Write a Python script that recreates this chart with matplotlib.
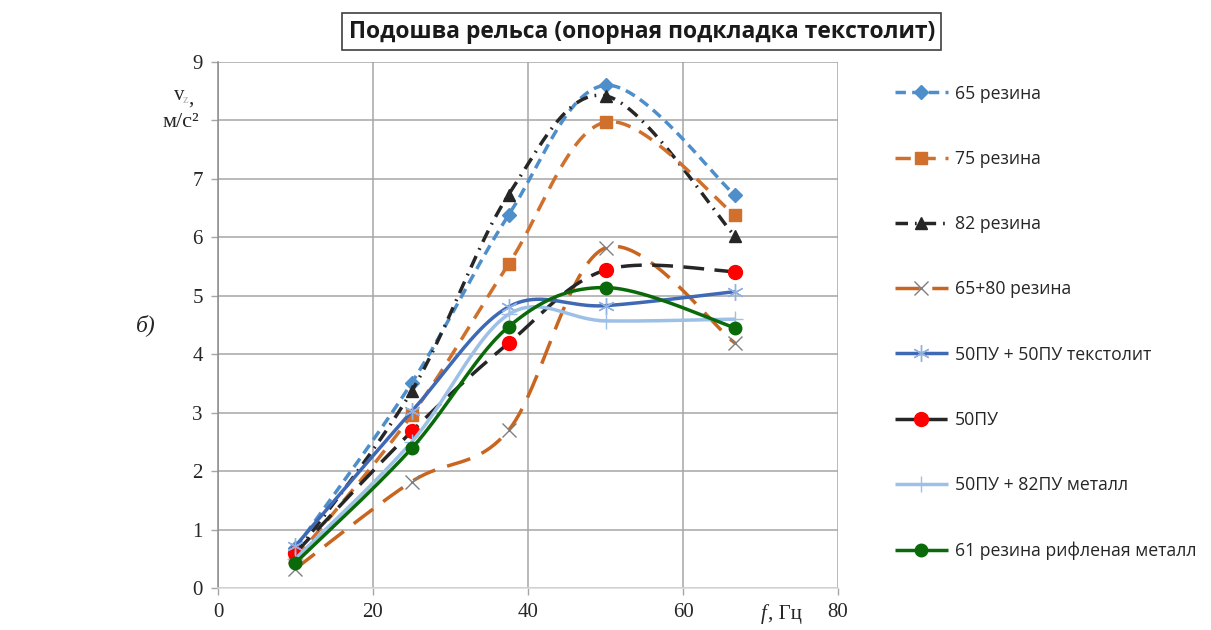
import numpy as np
import matplotlib

matplotlib.use("Agg")
import matplotlib.pyplot as plt

# frequency points, Hz
freq = [10, 25, 37.5, 50, 66.7]

# vertical acceleration, m/s^2
rez65 = [0.68, 3.51, 6.38, 8.6, 6.72]
rez75 = [0.5, 2.96, 5.54, 7.97, 6.38]
rez82 = [0.58, 3.37, 6.73, 8.42, 6.02]
rez65_80 = [0.33, 1.82, 2.7, 5.82, 4.19]
pu_textolite = [0.72, 3.02, 4.81, 4.83, 5.07]
pu50 = [0.6, 2.68, 4.19, 5.44, 5.41]
pu_metal = [0.5, 2.5, 4.68, 4.57, 4.6]
rez61_ribbed = [0.43, 2.39, 4.47, 5.14, 4.45]

labels = [
    "65 резина",
    "75 резина",
    "82 резина",
    "65+80 резина",
    "50ПУ + 50ПУ текстолит",
    "50ПУ",
    "50ПУ + 82ПУ металл",
    "61 резина рифленая металл",
]

x_ticks = [0, 20, 40, 60, 80]
y_ticks = list(range(0, 10))
# the "8" is covered by the unit caption in the source
y_tick_labels = ["0", "1", "2", "3", "4", "5", "6", "7", "", "9"]

N_SEG = 40


def smooth(xs, ys, n=N_SEG):
    """Excel-style smoothed line: Catmull-Rom as cubic Bezier segments."""
    pts = np.column_stack([xs, ys]).astype(float)
    p = np.vstack([pts[0], pts, pts[-1]])
    out = []
    t = np.linspace(0, 1, n, endpoint=False)[:, None]
    for i in range(len(pts) - 1):
        p0, p1, p2, p3 = p[i], p[i + 1], p[i + 2], p[i + 3]
        c1 = p1 + (p2 - p0) / 6
        c2 = p2 - (p3 - p1) / 6
        seg = (1 - t) ** 3 * p1 + 3 * (1 - t) ** 2 * t * c1 + 3 * (1 - t) * t ** 2 * c2 + t ** 3 * p2
        out.append(seg)
    out.append(pts[-1:])
    curve = np.vstack(out)
    return curve[:, 0], curve[:, 1], list(range(0, len(curve), n))


styles = [
    dict(color="#4E8FCB", dashes=(3.0, 1.8), marker="D", ms=7, mfc="#4E8FCB", mec="#4E8FCB"),
    dict(color="#D0702C", dashes=(4.4, 2.8), marker="s", ms=9, mfc="#D0702C", mec="#D0702C"),
    dict(color="#262626", dashes=(3.6, 2.0, 0.5, 2.0), marker="^", ms=9, mfc="#262626", mec="#262626"),
    dict(color="#C8651E", dashes=(7.0, 3.6), marker="x", ms=10, mfc="none", mec="#7F7F7F", mew=1.0),
    dict(color="#3F68B5", dashes=None, marker=(6, 2, 0), ms=12, mfc="none", mec="#8FB0E0", mew=1.0),
    dict(color="#262626", dashes=(6.0, 3.0), marker="o", ms=10, mfc="#FF0000", mec="#FF0000"),
    dict(color="#9DC0E6", dashes=None, marker="+", ms=12, mfc="none", mec="#9DC0E6", mew=1.0),
    dict(color="#0A6A0A", dashes=None, marker="o", ms=9, mfc="#0A6A0A", mec="#0A6A0A"),
]

series = [rez65, rez75, rez82, rez65_80, pu_textolite, pu50, pu_metal, rez61_ribbed]

fig = plt.figure(figsize=(12.11, 6.3), dpi=100)
ax = fig.add_axes([0.18, 0.0667, 0.512, 0.835])

# draw back to front roughly as in the source
order = [3, 0, 2, 1, 5, 4, 6, 7]
handles = [None] * len(series)
for i in order:
    st = styles[i]
    sx, sy, idx = smooth(freq, series[i])
    (ln,) = ax.plot(
        sx, sy, color=st["color"], lw=2.5, marker=st["marker"], markevery=idx,
        markersize=st["ms"], markerfacecolor=st["mfc"], markeredgecolor=st["mec"],
        markeredgewidth=st.get("mew", 1.0), label=labels[i], solid_capstyle="butt",
        dash_capstyle="butt", zorder=3 + order.index(i) * 0.1,
    )
    if st["dashes"] is not None:
        ln.set_dashes(st["dashes"])
    handles[i] = ln

ax.set_xlim(0, 80)
ax.set_ylim(0, 9)
ax.set_xticks(x_ticks)
ax.set_yticks(y_ticks)
ax.set_yticklabels(y_tick_labels)
ax.grid(True, color="#A6A6A6", linewidth=1.1)
ax.set_axisbelow(True)
for side in ("top", "right"):
    ax.spines[side].set_visible(False)
ax.spines["left"].set_color("#8C8C8C")
ax.spines["bottom"].set_color("#D9D9D9")
ax.spines["left"].set_linewidth(1.1)
ax.spines["bottom"].set_linewidth(1.1)
ax.tick_params(axis="both", direction="out", length=5, width=1.0, color="#A6A6A6",
               labelsize=15, labelcolor="#262626", pad=6)
for lab in ax.get_xticklabels() + ax.get_yticklabels():
    lab.set_fontfamily("Liberation Serif")

# axis captions
ax.text(-0.062, 0.937, "v", transform=ax.transAxes, ha="center", va="center",
        fontsize=15, family="Liberation Serif", color="#262626")
ax.text(-0.052, 0.927, "z", transform=ax.transAxes, ha="center", va="center",
        fontsize=9, family="Liberation Serif", color="#B0B0B0")
ax.text(-0.044, 0.93, ",", transform=ax.transAxes, ha="center", va="center",
        fontsize=15, family="Liberation Serif", color="#262626")
ax.text(-0.06, 0.885, "м/с²", transform=ax.transAxes, ha="center", va="center",
        fontsize=16, family="Liberation Serif", color="#262626")
ax.text(0.885, -0.05, "f", transform=ax.transAxes, ha="right", va="center",
        fontsize=15, family="Liberation Serif", style="italic", color="#262626")
ax.text(0.887, -0.05, ", Гц", transform=ax.transAxes, ha="left", va="center",
        fontsize=15, family="Liberation Serif", color="#262626")

fig.text(0.112, 0.484, "б)", fontsize=17, family="Liberation Serif", style="italic",
         ha="left", va="center", color="#262626")

fig.text(0.53, 0.95, "Подошва рельса (опорная подкладка текстолит)", ha="center", va="center",
         fontsize=16.5, family="Open Sans", fontweight="bold", color="#1A1A1A",
         bbox=dict(boxstyle="square,pad=0.28", facecolor="white", edgecolor="#404040", linewidth=1.2))

fig.legend(handles=handles, labels=labels, loc="upper left", bbox_to_anchor=(0.733, 0.877),
           frameon=False, prop={"family": "Open Sans", "size": 12.7}, labelspacing=2.68,
           handlelength=3.0, handletextpad=0.4, labelcolor="#262626", borderaxespad=0)

fig.savefig("out.png", dpi=100)
